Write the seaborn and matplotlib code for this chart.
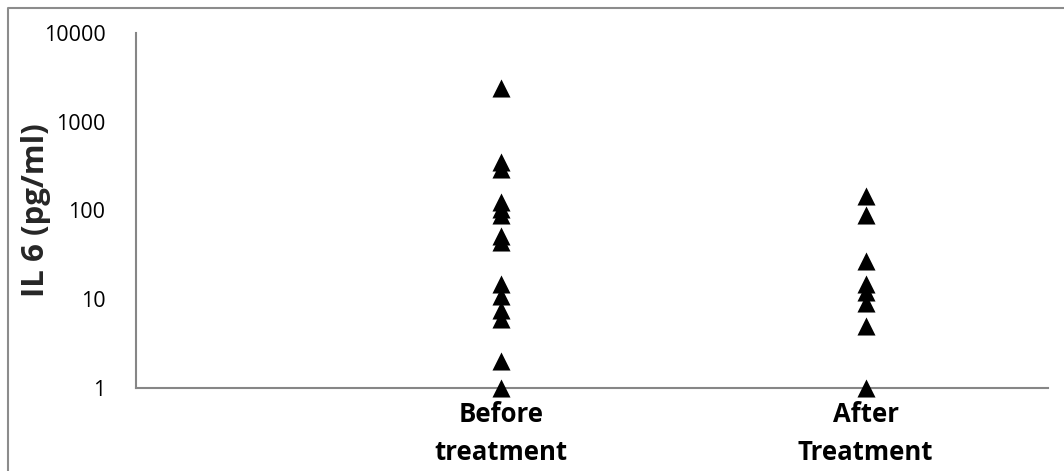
import matplotlib
matplotlib.use("Agg")
import matplotlib.pyplot as plt
from matplotlib.lines import Line2D
import pandas as pd
import seaborn as sns

# values (pg/ml, log axis)
before_vals = [2400, 350, 290, 125, 105, 88, 52, 44, 15, 11, 7.5, 6, 2, 1]
after_vals = [145, 90, 27, 15, 12, 9, 5, 1]
groups = ["Before\ntreatment", "After\nTreatment"]
ytick_vals = [1, 10, 100, 1000, 10000]

if __name__ == "__main__":
    sns.set_theme(style="white")
    plt.rcParams["font.family"] = ["Open Sans", "DejaVu Sans"]

    df = pd.DataFrame({
        "group": [groups[0]] * len(before_vals) + [groups[1]] * len(after_vals),
        "value": before_vals + after_vals,
    })

    fig = plt.figure(figsize=(10.64, 4.71), dpi=100)
    ax = fig.add_axes([136 / 1064, 1 - 388 / 471, (1048 - 136) / 1064, (388 - 33) / 471])
    ax.set_yscale("log")

    sns.stripplot(ax=ax, data=df, x="group", y="value", order=groups, jitter=False,
                  marker="^", size=13, color="black", linewidth=0,
                  clip_on=False, zorder=4)

    ax.set_xlim(-1, 1.5)
    ax.set_ylim(1, 10000)
    ax.set_yticks(ytick_vals)
    ax.set_yticklabels([str(v) for v in ytick_vals])
    ax.yaxis.set_minor_locator(matplotlib.ticker.NullLocator())
    ax.tick_params(axis="y", length=0, pad=22, labelsize=15.5, labelcolor="black")
    ax.tick_params(axis="x", length=0, pad=9, labelsize=18.5, labelcolor="black")
    for lbl in ax.get_xticklabels():
        lbl.set_fontweight("bold")
        lbl.set_linespacing(1.55)
    ax.set(xlabel=None, ylabel=None)

    for side in ["top", "right"]:
        ax.spines[side].set_visible(False)
    for side in ["left", "bottom"]:
        ax.spines[side].set_color("#868686")
        ax.spines[side].set_linewidth(1.5)

    fig.text(36 / 1064, 1 - 210 / 471, "IL 6 (pg/ml)", rotation=90, ha="center",
             va="center", fontsize=22.5, fontweight="bold")

    # outer chart border (left and top edges visible)
    fig.add_artist(Line2D([8 / 1064, 8 / 1064, 1.01], [-0.01, 1 - 8 / 471, 1 - 8 / 471],
                          transform=fig.transFigure, color="#8c8c8c", linewidth=1.5))

    plt.savefig("out.png", dpi=100)
